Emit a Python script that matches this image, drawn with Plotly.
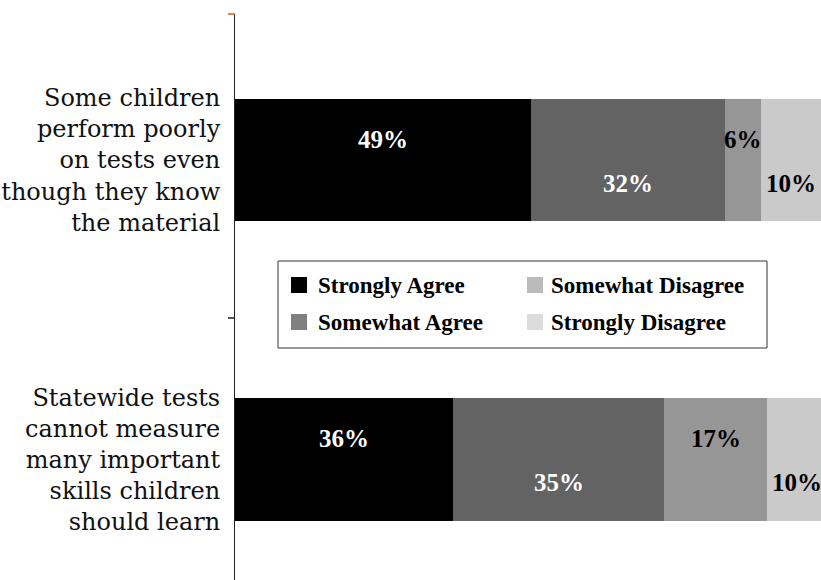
import plotly.graph_objects as go

# Survey statements (top to bottom) and response shares in percent
statements = [
    "Some children<br>perform poorly<br>on tests even<br>though they know<br>the material",
    "Statewide tests<br>cannot measure<br>many important<br>skills children<br>should learn",
]
responses = ["Strongly Agree", "Somewhat Agree", "Somewhat Disagree", "Strongly Disagree"]
strongly_agree = [49, 36]
somewhat_agree = [32, 35]
somewhat_disagree = [6, 17]
strongly_disagree = [10, 10]

series = [strongly_agree, somewhat_agree, somewhat_disagree, strongly_disagree]
bar_colors = ["#000000", "#636363", "#969696", "#cacaca"]
swatch_colors = ["#000000", "#808080", "#bbbbbb", "#dcdcdc"]
label_colors = ["white", "white", "black", "black"]
# label offsets (px): alternate above / below the bar centre
label_shift = [21, -23, 21, -23]

SERIF = "Liberation Serif, Times New Roman, serif"

W, H = 821, 580
ML, MR, MT, MB = 235, 0, 14, 0
PW, PH = W - ML - MR, H - MT - MB


def px(xp):
    return (xp - ML) / PW


def py(yp):
    return (H - MB - yp) / PH


ypos = list(range(len(statements)))[::-1]

fig = go.Figure()
for name, vals, col in zip(responses, series, bar_colors):
    fig.add_trace(go.Bar(
        y=ypos, x=vals, name=name, orientation="h",
        marker=dict(color=col, line=dict(width=0)),
        width=0.41, showlegend=False, hoverinfo="skip",
    ))

annotations = []
for i, y in enumerate(ypos):
    start = 0
    for k, vals in enumerate(series):
        v = vals[i]
        annotations.append(dict(
            x=start + v / 2, y=y, xref="x", yref="y",
            text=f"<b>{v}%</b>", showarrow=False, yshift=label_shift[k],
            font=dict(family=SERIF, size=25, color=label_colors[k]),
        ))
        start += v

# legend box drawn in two columns
shapes = [dict(type="rect", xref="paper", yref="paper",
               x0=px(278), x1=px(767), y0=py(348), y1=py(261),
               line=dict(color="#333333", width=1), fillcolor="white", layer="above")]
legend_cols = [(291, 316), (527, 549)]
legend_rows = [285, 322]
for k, name in enumerate(responses):
    sx, tx = legend_cols[k // 2]
    ry = legend_rows[k % 2]
    shapes.append(dict(type="rect", xref="paper", yref="paper",
                       x0=px(sx), x1=px(sx + 16), y0=py(ry + 8), y1=py(ry - 8),
                       line=dict(width=0), fillcolor=swatch_colors[k], layer="above"))
    annotations.append(dict(
        x=px(tx), y=py(ry), xref="paper", yref="paper", xanchor="left", yanchor="middle",
        text=f"<b>{name}</b>", showarrow=False,
        font=dict(family=SERIF, size=23, color="black"),
    ))

# boundary tick marks on the category axis
shapes.append(dict(type="line", xref="paper", yref="paper",
                   x0=px(228), x1=px(235), y0=py(14), y1=py(14),
                   line=dict(color="#c0602a", width=1.5)))
shapes.append(dict(type="line", xref="paper", yref="paper",
                   x0=px(228), x1=px(235), y0=py(318), y1=py(318),
                   line=dict(color="#222222", width=1.5)))

fig.update_layout(
    width=W, height=H,
    margin=dict(l=ML, r=MR, t=MT, b=MB, pad=0),
    barmode="stack",
    bargap=0,
    plot_bgcolor="white", paper_bgcolor="white",
    annotations=annotations, shapes=shapes,
    xaxis=dict(range=[0, 96.9], visible=False, fixedrange=True),
    yaxis=dict(
        range=[-0.402, 1.4875], tickmode="array", tickvals=ypos, ticktext=statements,
        ticks="", showline=True, linecolor="#222222", linewidth=1,
        showgrid=False, zeroline=False, ticklabelstandoff=9,
        tickfont=dict(family="DejaVu Serif", size=24, color="#111111"),
    ),
)

fig.write_html("out.html")
